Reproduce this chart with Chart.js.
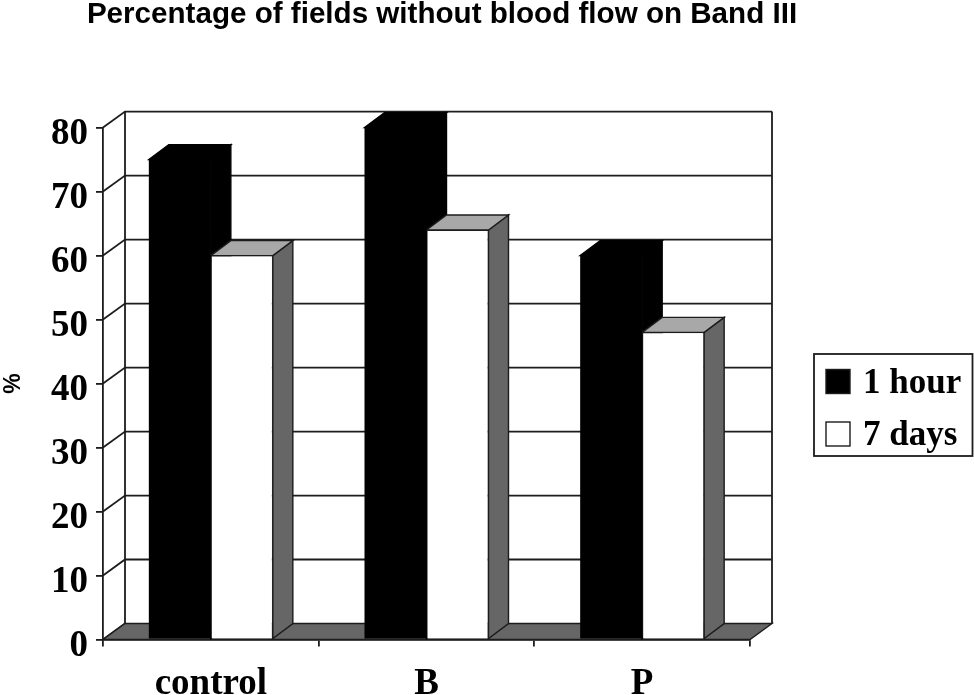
<!DOCTYPE html>
<html><head><meta charset="utf-8">
<style>html,body{margin:0;padding:0;background:#fff}canvas{display:block}</style>
<script src="https://cdn.jsdelivr.net/npm/chart.js@4"></script>
</head><body><canvas id="c" width="974" height="695"></canvas>
<script>
const categories = ['control', 'B', 'P'];
const oneHour = [75, 80, 60];
const sevenDays = [60, 64, 48];
const titleText = 'Percentage of fields without blood flow on Band III';
const yTitle = '%';
const LINE = '#1c1c1c', FLOOR = '#666666', TOPC = '#a8a8a8';
const WALL = {dx: 22, dy: 16}, BAR = {dx: 20, dy: 15};
const SERIF = '"Liberation Serif", serif', SANS = '"Liberation Sans", sans-serif';

function poly(ctx, pts, fill, stroke) {
  ctx.beginPath();
  pts.forEach((p, i) => i ? ctx.lineTo(p[0], p[1]) : ctx.moveTo(p[0], p[1]));
  ctx.closePath();
  ctx.fillStyle = fill; ctx.fill();
  ctx.lineWidth = 1.4; ctx.strokeStyle = stroke || LINE; ctx.stroke();
}

const threeD = {
  id: 'threeD',
  afterLayout(chart) {
    if (chart.titleBlock) { chart.titleBlock.left = 0; chart.titleBlock.right = 884; }
  },
  beforeDatasetsDraw(chart) {
    const ctx = chart.ctx, x = chart.scales.x, y = chart.scales.y;
    const l = x.left, r = x.right, y0 = y.getPixelForValue(0);
    ctx.save();
    ctx.lineWidth = 1.8; ctx.strokeStyle = LINE;
    y.ticks.forEach(t => {
      const py = y.getPixelForValue(t.value);
      ctx.beginPath();
      ctx.moveTo(l, py); ctx.lineTo(l + WALL.dx, py - WALL.dy);
      if (t.value > 0) ctx.lineTo(r + WALL.dx, py - WALL.dy);
      ctx.stroke();
    });
    const top = y.getPixelForValue(y.max);
    ctx.beginPath();
    ctx.moveTo(l + WALL.dx, top - WALL.dy); ctx.lineTo(l + WALL.dx, y0 - WALL.dy);
    ctx.moveTo(r + WALL.dx, top - WALL.dy); ctx.lineTo(r + WALL.dx, y0 - WALL.dy);
    ctx.stroke();
    poly(ctx, [[l, y0], [l + WALL.dx, y0 - WALL.dy], [r + WALL.dx, y0 - WALL.dy], [r, y0]], FLOOR);
    chart.data.datasets.forEach((ds, i) => {
      const black = i === 0;
      chart.getDatasetMeta(i).data.forEach(b => {
        const xl = b.x - b.width / 2, xr = b.x + b.width / 2, yt = b.y, yb = b.base;
        poly(ctx, [[xr, yt], [xr + BAR.dx, yt - BAR.dy], [xr + BAR.dx, yb - BAR.dy], [xr, yb]], black ? '#000' : FLOOR, black ? '#000' : LINE);
        poly(ctx, [[xl, yt], [xl + BAR.dx, yt - BAR.dy], [xr + BAR.dx, yt - BAR.dy], [xr, yt]], black ? '#000' : TOPC, black ? '#000' : LINE);
      });
    });
    ctx.restore();
  },
  afterDraw(chart) {
    const ctx = chart.ctx;
    ctx.save();
    ctx.lineWidth = 1.8; ctx.strokeStyle = LINE; ctx.fillStyle = '#fff';
    ctx.fillRect(814, 354, 158.5, 102); ctx.strokeRect(814, 354, 158.5, 102);
    const rows = [[369.5, 384], [422, 436]];
    ctx.font = 'bold 35px ' + SERIF; ctx.textBaseline = 'middle'; ctx.textAlign = 'left';
    chart.data.datasets.forEach((ds, i) => {
      ctx.fillStyle = ds.backgroundColor;
      ctx.fillRect(826, rows[i][0], 24, 24);
      ctx.lineWidth = 1.4;
      ctx.strokeRect(826, rows[i][0], 24, 24);
      ctx.fillStyle = '#000';
      ctx.fillText(ds.label, 863, rows[i][1]);
    });
    ctx.restore();
  }
};

new Chart(document.getElementById('c'), {
  type: 'bar',
  plugins: [threeD],
  data: {
    labels: categories,
    datasets: [
      {label: '1 hour', data: oneHour, backgroundColor: '#000000', borderWidth: 0, categoryPercentage: 0.575, barPercentage: 1},
      {label: '7 days', data: sevenDays, backgroundColor: '#ffffff', borderColor: LINE, borderWidth: 1, categoryPercentage: 0.575, barPercentage: 1}
    ]
  },
  options: {
    responsive: false, animation: false, devicePixelRatio: 1,
    layout: {padding: {left: 0, right: 224, top: 0, bottom: 0}},
    plugins: {
      legend: {display: false},
      tooltip: {enabled: false},
      title: {display: true, text: titleText, color: '#000', fullSize: false,
        font: {family: SANS, size: 29.6, weight: 'bold', lineHeight: 1}, padding: {top: 0, bottom: 98}}
    },
    scales: {
      x: {
        afterFit(s) { s.height = 55.5; },
        grid: {drawOnChartArea: false, offset: true, tickLength: 7, color: LINE, lineWidth: 1.8},
        border: {color: LINE, width: 1.8},
        ticks: {color: '#000', font: {family: SERIF, size: 37, weight: 'bold'}, padding: 16, maxRotation: 0}
      },
      y: {
        min: 0, max: 80,
        afterFit(s) { s.width = 103; },
        grid: {drawOnChartArea: false, tickLength: 7, color: LINE, lineWidth: 1.8},
        border: {color: LINE, width: 1.8},
        ticks: {stepSize: 10, color: '#000', font: {family: SERIF, size: 37, weight: 'bold'}, padding: 8, labelOffset: 7},
        title: {display: true, text: yTitle, color: '#000', font: {family: SANS, size: 23, weight: 'bold'}, padding: 0}
      }
    }
  }
});
</script></body></html>
